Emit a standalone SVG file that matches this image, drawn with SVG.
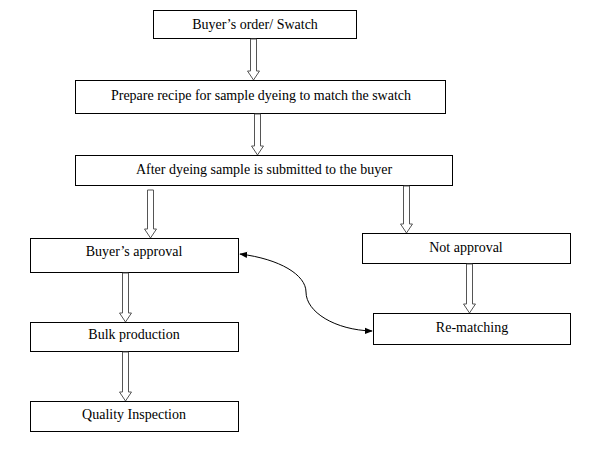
<svg xmlns="http://www.w3.org/2000/svg" width="593" height="450" viewBox="0 0 593 450">
<defs>
<style>
.box{fill:#fff;stroke:#000;stroke-width:1}
.t{font-family:"Liberation Serif","Times New Roman",serif;font-size:14px;fill:#000;text-anchor:middle}
.ha{fill:#fff;stroke:#555;stroke-width:1}
.c{fill:none;stroke:#000;stroke-width:1}
</style>
<marker id="ah" viewBox="0 0 10 10" refX="9" refY="5" markerWidth="8" markerHeight="8" markerUnits="userSpaceOnUse" orient="auto-start-reverse">
<path d="M0,1 L10,5 L0,9 Z" fill="#000"/>
</marker>
</defs>
<rect width="593" height="450" fill="#fff"/>
<g id="n1"><rect class="box" x="153.5" y="10.5" width="203" height="28"/><text class="t" x="255" y="29">Buyer’s order/ Swatch</text></g>
<g id="n2"><rect class="box" x="75.5" y="80.5" width="370" height="33"/><text class="t" x="261" y="100">Prepare recipe for sample dyeing to match the swatch</text></g>
<g id="n3"><rect class="box" x="75.5" y="155.5" width="377" height="30"/><text class="t" x="264" y="174">After dyeing sample is submitted to the buyer</text></g>
<g id="n4"><rect class="box" x="30.5" y="238.5" width="208" height="34"/><text class="t" x="134" y="256">Buyer’s approval</text></g>
<g id="n5"><rect class="box" x="362.5" y="233.5" width="208" height="30"/><text class="t" x="466" y="252">Not approval</text></g>
<g id="n6"><rect class="box" x="373.5" y="313.5" width="197" height="31"/><text class="t" x="472" y="332">Re-matching</text></g>
<g id="n7"><rect class="box" x="30.5" y="322.5" width="208" height="29"/><text class="t" x="134" y="339">Bulk production</text></g>
<g id="n8"><rect class="box" x="30.5" y="401.5" width="208" height="30"/><text class="t" x="134" y="419">Quality Inspection</text></g>
<g id="connectors">
<path class="ha" d="M250.5,39 H256.5 V71 H259.5 L253.5,80 L247.5,71 H250.5 Z"/>
<path class="ha" d="M254.5,114 H260.5 V146 H263.5 L257.5,155 L251.5,146 H254.5 Z"/>
<path class="ha" d="M147.5,190 H153.5 V229 H156.5 L150.5,238 L144.5,229 H147.5 Z"/>
<path class="ha" d="M403.5,186 H409.5 V224 H412.5 L406.5,233 L400.5,224 H403.5 Z"/>
<path class="ha" d="M466.5,264 H472.5 V304 H475.5 L469.5,313 L463.5,304 H466.5 Z"/>
<path class="ha" d="M122.5,273 H128.5 V313 H131.5 L125.5,322 L119.5,313 H122.5 Z"/>
<path class="ha" d="M122.5,352 H128.5 V392 H131.5 L125.5,401 L119.5,392 H122.5 Z"/>
<path class="c" d="M240,254 C280,259 306,275 306,292 C306,312 335,330 372,331" marker-start="url(#ah)" marker-end="url(#ah)"/>
</g>
</svg>
